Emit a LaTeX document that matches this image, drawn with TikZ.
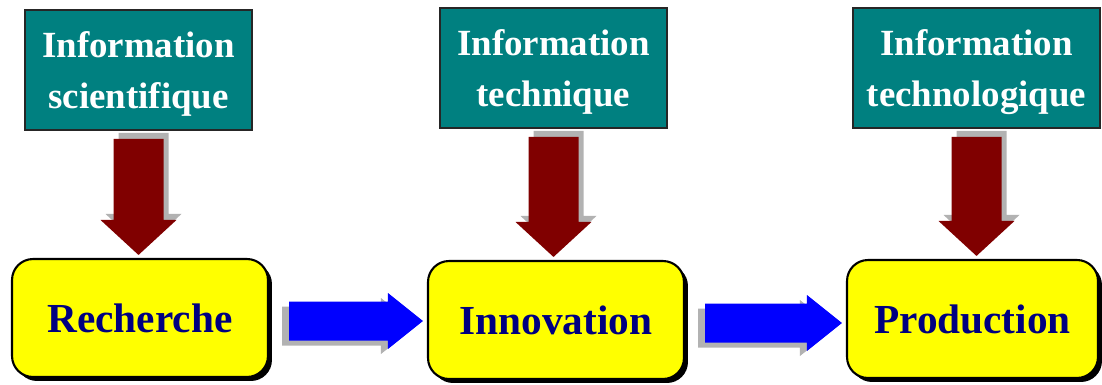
\documentclass[tikz,border=0pt]{standalone}
\usepackage{fontspec}
\setmainfont{Liberation Serif}
\usetikzlibrary{calc,shadows}

\definecolor{infoteal}{RGB}{0,128,128}
\definecolor{stepnavy}{RGB}{0,0,128}
\definecolor{stepyellow}{RGB}{255,255,0}
\definecolor{arrowred}{RGB}{128,0,0}
\definecolor{arrowblue}{RGB}{0,0,255}
\definecolor{shadowgray}{RGB}{178,178,178}

\tikzset{
	infobox/.style={draw=black!85, line width=1pt, fill=infoteal, text=white,
		minimum width=4.54cm, minimum height=2.4cm, inner sep=0pt, align=center,
		text depth=0pt, font=\fontsize{21}{29}\selectfont\bfseries},
	stagebox/.style={draw=black, line width=1.2pt, fill=stepyellow, text=stepnavy,
		rounded corners=0.42cm, minimum width=5.12cm, minimum height=2.36cm,
		font=\fontsize{23.5}{28}\selectfont\bfseries,
		drop shadow={fill=black, opacity=1, shadow xshift=0.08cm, shadow yshift=-0.08cm}}
}

% fat arrow downwards, from an info box to a stage box
\newcommand{\fatdown}[2]{%
	\coordinate (s) at ($(#1.south)+(0,8)$);
	\coordinate (e) at ($(#2.north)+(0,-3)$);
	\coordinate (e) at (s |- e);
	\foreach \dx/\dy/\col in {5/-6/shadowgray, 0/0/arrowred}
		\fill[\col] ($(s)+(\dx-25,\dy)$) -- ($(s)+(\dx+25,\dy)$) -- ($(e)+(\dx+25,\dy-35)$)
			-- ($(e)+(\dx+38,\dy-35)$) -- ($(e)+(\dx,\dy)$) -- ($(e)+(\dx-38,\dy-35)$)
			-- ($(e)+(\dx-25,\dy-35)$) -- cycle;
}

% fat arrow to the right, from one stage box to the next
\newcommand{\fatright}[2]{%
	\coordinate (s) at ($(#1.east)+(20,3)$);
	\coordinate (e) at ($(#2.west)+(-4,3)$);
	\coordinate (e) at (e |- s);
	\foreach \dx/\dy/\col in {-7/5/shadowgray, 0/0/arrowblue}
		\fill[\col] ($(s)+(\dx,\dy-19.5)$) -- ($(e)+(\dx-35,\dy-19.5)$) -- ($(e)+(\dx-35,\dy-28)$)
			-- ($(e)+(\dx,\dy)$) -- ($(e)+(\dx-35,\dy+28)$) -- ($(e)+(\dx-35,\dy+19.5)$)
			-- ($(s)+(\dx,\dy+19.5)$) -- cycle;
}

\begin{document}
\begin{tikzpicture}[x=0.02cm, y=-0.02cm]
	\useasboundingbox (0,0) rectangle (1102,385);

	\node[infobox] (infosci) at (138.5,70) {Information\\scientifique};
	\node[infobox] (infotech) at (553.5,68) {Information\\technique};
	\node[infobox, minimum width=4.94cm] (infotechno) at (976.5,68) {Information\\technologique};

	\node[stagebox] (recherche) at (140,318) {Recherche};
	\node[stagebox] (innovation) at (556,320) {Innovation};
	\node[stagebox, minimum width=5.02cm] (production) at (972.5,319) {Production};

	\fatdown{infosci}{recherche}
	\fatdown{infotech}{innovation}
	\fatdown{infotechno}{production}

	\fatright{recherche}{innovation}
	\fatright{innovation}{production}
\end{tikzpicture}
\end{document}
